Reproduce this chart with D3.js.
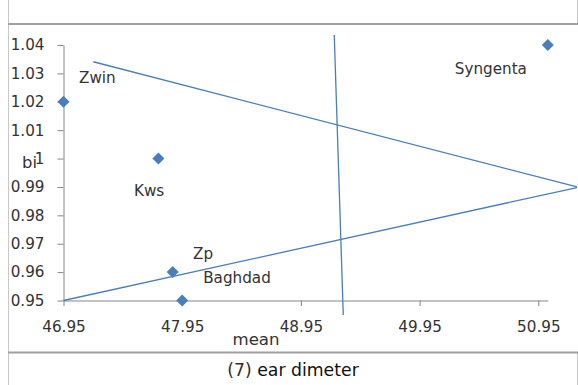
<!DOCTYPE html>
<html>
<head>
<meta charset="utf-8">
<script src="https://cdn.jsdelivr.net/npm/d3@7/dist/d3.min.js"></script>
<style>
  html, body { margin: 0; padding: 0; background: #fff; }
  svg { display: block; }
  text { font-family: "DejaVu Sans", sans-serif; }
</style>
</head>
<body>
<svg id="chart" width="578" height="385"></svg>
<script>
// ---- data ----
const names   = ["Zwin", "Kws", "Zp", "Baghdad", "Syngenta"];
const meanVal = [46.95, 47.75, 47.87, 47.95, 51.03];
const biVal   = [1.02, 1.00, 0.96, 0.95, 1.04];
const xTicks  = [46.95, 47.95, 48.95, 49.95, 50.95];
const yTicks  = [0.95, 0.96, 0.97, 0.98, 0.99, 1.00, 1.01, 1.02, 1.03, 1.04];
const lineUpper    = [[47.201, 1.0341], [51.276, 0.9900]];
const lineLower    = [[46.95, 0.9500], [51.276, 0.9898]];
const lineVertical = [[49.231, 1.0435], [49.307, 0.9449]];
const xTitle = "mean";
const yTitle = "bi";
const caption = ["(7)", " ear dimeter"];

// ---- layout ----
const W = 578, H = 385;
const svg = d3.select("#chart");
const blue = "#4a7ebb";
const txt = "#333";

const x = d3.scaleLinear().domain([46.95, 51.03]).range([63.5, 547.8]);
const y = d3.scaleLinear().domain([0.95, 1.04]).range([300.5, 45]);

// frame
const frame = svg.append("g").attr("fill", "none");
frame.append("line").attr("x1", 8.5).attr("x2", 8.5).attr("y1", 0).attr("y2", H).attr("stroke", "#c8c8c8");
frame.append("line").attr("x1", 577.5).attr("x2", 577.5).attr("y1", 0).attr("y2", 24).attr("stroke", "#c8c8c8");
frame.append("line").attr("x1", 577.5).attr("x2", 577.5).attr("y1", 352).attr("y2", H).attr("stroke", "#c8c8c8");
frame.append("line").attr("x1", 8).attr("x2", 578).attr("y1", 24).attr("y2", 24).attr("stroke", "#a0a0a0").attr("stroke-width", 2);
frame.append("line").attr("x1", 8).attr("x2", 578).attr("y1", 352.5).attr("y2", 352.5).attr("stroke", "#a0a0a0").attr("stroke-width", 2);

// axes
const xAxis = svg.append("g").attr("transform", `translate(0,${y(0.95)})`)
  .call(d3.axisBottom(x).tickValues(xTicks).tickFormat(d3.format(".2f")).tickSize(5.5).tickPadding(15.5).tickSizeOuter(0));
const yAxis = svg.append("g").attr("transform", `translate(${x(46.95)},0)`)
  .call(d3.axisLeft(y).tickValues(yTicks).tickFormat(d => d === 1 ? "1" : d3.format(".2f")(d)).tickSize(6).tickPadding(13).tickSizeOuter(0));
[xAxis, yAxis].forEach(a => {
  a.select(".domain").attr("stroke", "#868686");
  a.selectAll(".tick line").attr("stroke", "#868686");
  a.selectAll(".tick text").attr("fill", txt).style("font-size", "15.2px").style("font-family", "DejaVu Sans, sans-serif");
});

// lines
const lineGen = d3.line().x(d => x(d[0])).y(d => y(d[1]));
svg.append("g").selectAll("path").data([lineUpper, lineLower, lineVertical]).join("path")
  .attr("d", lineGen).attr("fill", "none").attr("stroke", blue).attr("stroke-width", 1.3);

// points
const pts = names.map((n, i) => ({ name: n, mx: meanVal[i], b: biVal[i] }));
const diamond = d3.symbol().type(d3.symbolSquare).size(72);
svg.append("g").selectAll("path").data(pts).join("path")
  .attr("d", diamond)
  .attr("transform", d => `translate(${x(d.mx)},${y(d.b)}) rotate(45)`)
  .attr("fill", blue);

// data labels (offsets from point)
const labelOffset = { Zwin: [15.5, -18.5], Kws: [-24.5, 37.5], Zp: [20.3, -13], Baghdad: [21, -17.3], Syngenta: [-93, 29] };
svg.append("g").selectAll("text").data(pts).join("text")
  .attr("x", d => x(d.mx) + labelOffset[d.name][0])
  .attr("y", d => y(d.b) + labelOffset[d.name][1])
  .attr("fill", txt).style("font-size", "15.2px")
  .text(d => d.name);

// axis titles
svg.append("text").attr("x", 256).attr("y", 345).attr("text-anchor", "middle")
  .attr("fill", txt).style("font-size", "16.6px").text(xTitle);
svg.append("text").attr("x", 22).attr("y", 168).attr("text-anchor", "start")
  .attr("fill", txt).style("font-size", "16.4px").text(yTitle);

// caption
const cap = svg.append("text").attr("x", 293).attr("y", 375.5).attr("text-anchor", "middle")
  .style("font-size", "17.3px");
cap.append("tspan").attr("fill", "#3a2a1c").text(caption[0]);
cap.append("tspan").attr("fill", "#111").text(caption[1]);
</script>
</body>
</html>
